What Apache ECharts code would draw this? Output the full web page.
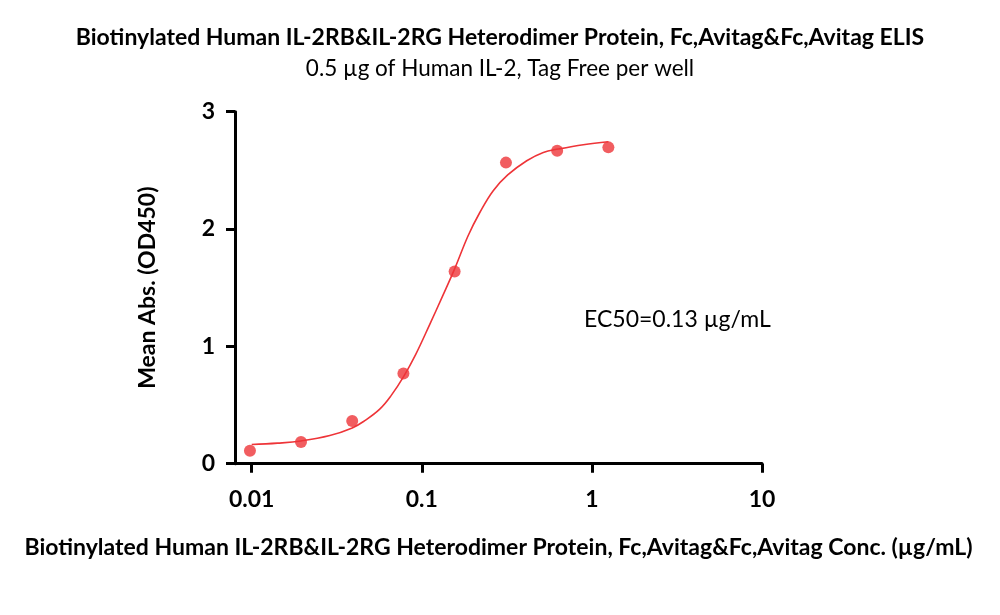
<!DOCTYPE html>
<html>
<head>
<meta charset="utf-8">
<script src="https://cdn.jsdelivr.net/npm/echarts@6/dist/echarts.min.js"></script>
<style>html,body{margin:0;padding:0;background:#fff}#c{width:1000px;height:615px}</style>
</head>
<body>
<div id="c"></div>
<script>
// Measured points (concentration µg/mL, mean OD450)
const pointConc = [0.00977, 0.0195, 0.039, 0.078, 0.156, 0.3125, 0.625, 1.25];
const pointOD = [0.11, 0.185, 0.363, 0.769, 1.639, 2.566, 2.668, 2.696];
// Fitted curve
const curveConc = [0.01, 0.0142, 0.0195, 0.0288, 0.039, 0.046, 0.0566, 0.066, 0.078, 0.092, 0.1116, 0.1327, 0.156, 0.1875, 0.2198, 0.263, 0.32, 0.414, 0.518, 0.636, 0.89, 1.25];
const curveOD = [0.163, 0.175, 0.194, 0.24, 0.305, 0.365, 0.465, 0.58, 0.74, 0.93, 1.19, 1.43, 1.66, 1.945, 2.143, 2.327, 2.461, 2.582, 2.653, 2.682, 2.719, 2.744];
const xTickValues = [0.01, 0.1, 1, 10];
const xTickLabels = ['0.01', '0.1', '1', '10'];

const titleText = 'Biotinylated Human IL-2RB&IL-2RG Heterodimer Protein, Fc,Avitag&Fc,Avitag ELIS';
const subtitleText = '0.5 µg of Human IL-2, Tag Free per well';
const xName = 'Biotinylated Human IL-2RB&IL-2RG Heterodimer Protein, Fc,Avitag&Fc,Avitag Conc. (µg/mL)';
const yName = 'Mean Abs. (OD450)';
const ec50Text = 'EC50=0.13 µg/mL';

const FONT = 'Lato';
const FS = 23;
const RED = '#EE3438';

const chart = echarts.init(document.getElementById('c'), null, {renderer: 'canvas'});
chart.setOption({
  animation: false,
  backgroundColor: '#fff',
  title: [
    {text: titleText, left: 'center', top: 26, padding: 0, textStyle: {fontFamily: FONT, fontSize: FS, fontWeight: 'bold', color: '#000'}},
    {text: subtitleText, left: 'center', top: 57, padding: 0, textStyle: {fontFamily: FONT, fontSize: 22.5, fontWeight: 'normal', color: '#000'}}
  ],
  graphic: [
    {type: 'text', left: 584, top: 308, style: {text: ec50Text, font: '23px Lato', fill: '#000'}}
  ],
  grid: {left: 235, right: 238, top: 111.7, bottom: 151.3, containLabel: false},
  xAxis: {
    type: 'log',
    logBase: 10,
    min: 0.00798,
    max: 10,
    name: xName,
    nameLocation: 'middle',
    nameGap: 72,
    nameTextStyle: {fontFamily: FONT, fontSize: FS, fontWeight: 'bold', color: '#000'},
    axisLine: {lineStyle: {color: '#000', width: 3}},
    axisTick: {show: true, length: 9, lineStyle: {color: '#000', width: 3}, customValues: xTickValues},
    axisLabel: {
      customValues: xTickValues,
      margin: 24,
      fontFamily: FONT, fontSize: FS, fontWeight: 'bold', color: '#000',
      formatter: function (v) {
        const i = xTickValues.findIndex(t => Math.abs(Math.log10(t) - Math.log10(v)) < 1e-6);
        return i >= 0 ? xTickLabels[i] : '';
      }
    },
    splitLine: {show: false},
    minorTick: {show: false}
  },
  yAxis: {
    type: 'value',
    min: 0,
    max: 3,
    interval: 1,
    name: yName,
    nameLocation: 'middle',
    nameGap: 76,
    nameTextStyle: {fontFamily: FONT, fontSize: FS, fontWeight: 'bold', color: '#000'},
    axisLine: {show: true, lineStyle: {color: '#000', width: 3}},
    axisTick: {show: true, length: 9, lineStyle: {color: '#000', width: 3}},
    axisLabel: {margin: 20, fontFamily: FONT, fontSize: FS, fontWeight: 'bold', color: '#000'},
    splitLine: {show: false}
  },
  series: [
    {
      type: 'line',
      data: curveConc.map((c, i) => [c, curveOD[i]]),
      smooth: 0.4,
      showSymbol: false,
      lineStyle: {color: RED, width: 1.6},
      z: 2
    },
    {
      type: 'scatter',
      data: pointConc.map((c, i) => [c, pointOD[i]]),
      symbol: 'circle',
      symbolSize: 12,
      itemStyle: {color: RED},
      z: 3
    }
  ]
});
</script>
</body>
</html>
